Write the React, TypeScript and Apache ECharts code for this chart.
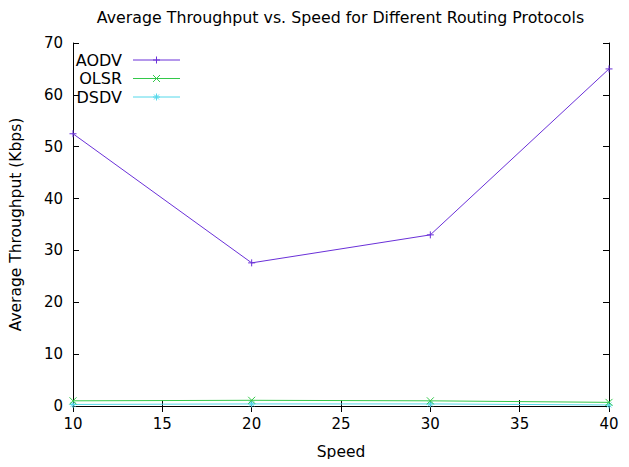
import React, { useEffect, useRef } from "react";
import * as echarts from "echarts";

const speeds = [10, 20, 30, 40];
const aodv = [52.5, 27.6, 33, 65];
const olsr = [1.0, 1.1, 1.0, 0.7];
const dsdv = [0.3, 0.4, 0.4, 0.2];
const names = ["AODV", "OLSR", "DSDV"];
const colors = ["#6a30d8", "#33c84a", "#55d8ea"];

const plusIcon = "path://M0,5L10,5M5,0L5,10";
const crossIcon = "path://M0,0L10,10M10,0L0,10";
const starIcon = "path://M0,5L10,5M5,0L5,10M1.5,1.5L8.5,8.5M8.5,1.5L1.5,8.5";
const icons = [plusIcon, crossIcon, starIcon];

// marker strokes for the hand-drawn key, in a 10x10 box
const markerSegs = [
  [[0, 5, 10, 5], [5, 0, 5, 10]],
  [[0, 0, 10, 10], [10, 0, 0, 10]],
  [[0, 5, 10, 5], [5, 0, 5, 10], [1.5, 1.5, 8.5, 8.5], [8.5, 1.5, 1.5, 8.5]],
];

const FONT = "DejaVu Sans";

const App = () => {
  const chartRef = useRef<HTMLDivElement>(null);

  useEffect(() => {
    const chartDom = chartRef.current;
    if (!chartDom) return;
    const myChart = echarts.init(chartDom, null, { renderer: "svg" });

    const seriesData = [aodv, olsr, dsdv];
    const axisCommon = {
      axisLine: { lineStyle: { color: "#000", width: 1 } },
      axisTick: { inside: true, length: 6, lineStyle: { color: "#000" } },
      splitLine: { show: false },
    };

    // key: text right-aligned, then a short line with the marker in its middle
    const keyItems: any[] = [
      {
        type: "text",
        x: 340.5,
        y: 17,
        style: {
          text: "Average Throughput vs. Speed for Different Routing Protocols",
          align: "center",
          verticalAlign: "middle",
          fontFamily: FONT,
          fontSize: 15.8,
          fill: "#000",
        },
      },
    ];
    names.forEach((n, i) => {
      const y = 60 + i * 18.5;
      keyItems.push({
        type: "text",
        x: 122,
        y,
        style: {
          text: n,
          align: "right",
          verticalAlign: "middle",
          fontFamily: FONT,
          fontSize: 16,
          fill: "#000",
        },
      });
      keyItems.push({
        type: "line",
        shape: { x1: 133, y1: y, x2: 180, y2: y },
        style: { stroke: colors[i], lineWidth: 1 },
      });
      markerSegs[i].forEach((s) => {
        const k = 0.7;
        keyItems.push({
          type: "line",
          shape: {
            x1: 156.5 + (s[0] - 5) * k,
            y1: y + (s[1] - 5) * k,
            x2: 156.5 + (s[2] - 5) * k,
            y2: y + (s[3] - 5) * k,
          },
          style: { stroke: colors[i], lineWidth: 1 },
        });
      });
    });

    const option = {
      animation: false,
      backgroundColor: "#fff",
      graphic: keyItems,
      grid: { left: 72, right: 20, top: 43, bottom: 61 },
      xAxis: [
        {
          type: "value",
          min: 10,
          max: 40,
          interval: 5,
          name: "Speed",
          nameLocation: "middle",
          nameGap: 38,
          nameTextStyle: { fontFamily: FONT, fontSize: 15.5, color: "#000" },
          axisLabel: { fontFamily: FONT, fontSize: 15, color: "#000", margin: 10 },
          ...axisCommon,
        },
        {
          type: "value",
          position: "top",
          min: 10,
          max: 40,
          interval: 5,
          axisLabel: { show: false },
          ...axisCommon,
        },
      ],
      yAxis: [
        {
          type: "value",
          min: 0,
          max: 70,
          interval: 10,
          name: "Average Throughput (Kbps)",
          nameLocation: "middle",
          nameGap: 49,
          nameTextStyle: { fontFamily: FONT, fontSize: 15.5, color: "#000" },
          axisLabel: { fontFamily: FONT, fontSize: 15, color: "#000", margin: 10 },
          ...axisCommon,
        },
        {
          type: "value",
          position: "right",
          min: 0,
          max: 70,
          interval: 10,
          axisLabel: { show: false },
          ...axisCommon,
        },
      ],
      series: names.map((n, i) => ({
        name: n,
        type: "line",
        data: speeds.map((s, j) => [s, seriesData[i][j]]),
        symbol: icons[i],
        symbolSize: 7,
        color: colors[i],
        lineStyle: { width: 1, color: colors[i] },
        itemStyle: { color: "rgba(0,0,0,0)", borderColor: colors[i], borderWidth: 1 },
        emphasis: { disabled: true },
        z: 10 - i,
      })),
    };

    myChart.setOption(option);
    return () => {
      myChart.dispose();
    };
  }, []);

  return <div ref={chartRef} style={{ width: 629, height: 467, margin: -8 }}></div>;
};

export default App;
